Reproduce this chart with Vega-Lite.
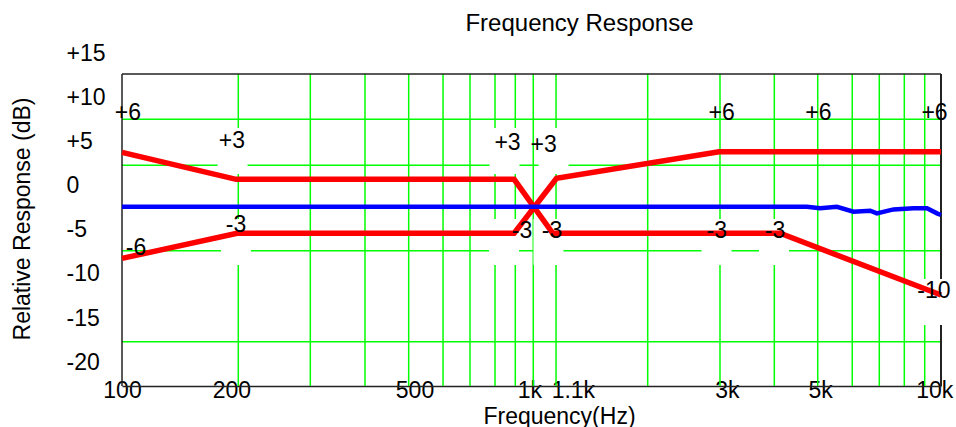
{
  "$schema": "https://vega.github.io/schema/vega-lite/v6.json",
  "width": 819,
  "height": 346,
  "autosize": {"type": "none"},
  "padding": {"left": 122, "top": 40, "right": 15, "bottom": 41},
  "background": "white",
  "config": {"view": {"stroke": null}, "font": "Liberation Sans, Arial, sans-serif"},
  "title": {"text": "Frequency Response", "fontSize": 24, "fontWeight": "normal", "color": "black", "anchor": "middle", "frame": "group", "dx": 48, "offset": 4},
  "datasets": {
    "vgrid": [{"f": 192.3}, {"f": 288.3}, {"f": 392.1}, {"f": 501.3}, {"f": 608.1}, {"f": 707.7}, {"f": 814.5}, {"f": 912.9}, {"f": 1010}, {"f": 1148}, {"f": 1922}, {"f": 2886}, {"f": 3917}, {"f": 5000}, {"f": 6071}, {"f": 7068}, {"f": 8136}, {"f": 9125}],
    "hgrid": [{"v": 7.51}, {"v": 2.3}, {"v": -7.38}, {"v": -17.68}],
    "frame": [{"f": 100, "f2": 10000, "v": 12.64, "v2": 12.64, "w": "thin"}, {"f": 100, "f2": 100, "v": -22.7, "v2": 12.64, "w": "thin"}, {"f": 10000, "f2": 10000, "v": -22.7, "v2": 12.64, "w": "thick"}],
    "boxes": [
      {"f": 186.2, "v": 3.92}, {"f": 859, "v": 3.92}, {"f": 1132, "v": 3.92},
      {"f": 189.8, "v": -6.39}, {"f": 857, "v": -6.39}, {"f": 1100, "v": -6.39}, {"f": 2830, "v": -6.39}, {"f": 3910, "v": -6.39},
      {"f": 9561, "v": -13.19}
    ],
    "red": [
      {"s": "A", "f": 100, "v": 3.77}, {"s": "A", "f": 190, "v": 0.71}, {"s": "A", "f": 907, "v": 0.71}, {"s": "A", "f": 1127, "v": -5.4}, {"s": "A", "f": 4047, "v": -5.4}, {"s": "A", "f": 10000, "v": -12.39},
      {"s": "B", "f": 100, "v": -8.24}, {"s": "B", "f": 191, "v": -5.4}, {"s": "B", "f": 907, "v": -5.4}, {"s": "B", "f": 1151, "v": 0.83}, {"s": "B", "f": 2870, "v": 3.84}, {"s": "B", "f": 10000, "v": 3.84}
    ],
    "blue": [
      {"f": 100, "v": -2.39}, {"f": 4704, "v": -2.39}, {"f": 5069, "v": -2.57}, {"f": 5569, "v": -2.39}, {"f": 6112, "v": -2.96}, {"f": 6716, "v": -2.84}, {"f": 6973, "v": -3.14}, {"f": 7657, "v": -2.69}, {"f": 8570, "v": -2.57}, {"f": 9243, "v": -2.57}, {"f": 9777, "v": -3.14}, {"f": 10000, "v": -3.33}
    ],
    "labels": [
      {"f": 103.4, "v": 8.28, "t": "+6"}, {"f": 185.6, "v": 5.05, "t": "+3"}, {"f": 873.8, "v": 4.83, "t": "+3"}, {"f": 1071, "v": 4.63, "t": "+3"},
      {"f": 2914, "v": 8.28, "t": "+6"}, {"f": 5017, "v": 8.28, "t": "+6"}, {"f": 9641, "v": 8.28, "t": "+6"},
      {"f": 108.2, "v": -7.07, "t": "-6"}, {"f": 189.8, "v": -4.46, "t": "-3"}, {"f": 948, "v": -5.14, "t": "-3"}, {"f": 1122, "v": -5.14, "t": "-3"},
      {"f": 2834, "v": -5.14, "t": "-3"}, {"f": 3933, "v": -5.14, "t": "-3"}, {"f": 9614, "v": -11.94, "t": "-10"}
    ]
  },
  "layer": [
    {
      "data": {"name": "vgrid"},
      "mark": {"type": "rule", "stroke": "#00ff00", "strokeWidth": 1.5},
      "encoding": {
        "x": {"field": "f", "type": "quantitative", "scale": {"type": "log", "domain": [100, 10000], "nice": false}},
        "y": {"datum": -22.7, "type": "quantitative", "scale": {"domain": [-22.7, 16.5], "nice": false, "zero": false}},
        "y2": {"datum": 12.64}
      }
    },
    {
      "data": {"name": "hgrid"},
      "mark": {"type": "rule", "stroke": "#00ff00", "strokeWidth": 1.5},
      "encoding": {
        "y": {"field": "v", "type": "quantitative", "scale": {"domain": [-22.7, 16.5], "nice": false, "zero": false}},
        "x": {"datum": 100, "type": "quantitative", "scale": {"type": "log", "domain": [100, 10000], "nice": false}},
        "x2": {"datum": 10000}
      }
    },
    {
      "data": {"name": "frame"},
      "mark": {"type": "rule", "stroke": "#222222"},
      "encoding": {
        "x": {"field": "f", "type": "quantitative", "scale": {"type": "log", "domain": [100, 10000], "nice": false}},
        "y": {"field": "v", "type": "quantitative", "scale": {"domain": [-22.7, 16.5], "nice": false, "zero": false}},
        "x2": {"field": "f2"},
        "y2": {"field": "v2"},
        "strokeWidth": {"field": "w", "type": "nominal", "scale": {"domain": ["thin", "thick"], "range": [1.5, 2]}, "legend": null}
      }
    },
    {
      "data": {"name": "boxes"},
      "mark": {"type": "point", "shape": "M-0.652,-1H0.652V1H-0.652Z", "size": 2116, "filled": true, "fill": "white", "stroke": null, "opacity": 1},
      "encoding": {
        "x": {"field": "f", "type": "quantitative", "scale": {"type": "log", "domain": [100, 10000], "nice": false}},
        "y": {"field": "v", "type": "quantitative", "scale": {"domain": [-22.7, 16.5], "nice": false, "zero": false}}
      }
    },
    {
      "data": {"name": "red"},
      "mark": {"type": "line", "stroke": "#ff0000", "strokeWidth": 5.5, "strokeJoin": "miter"},
      "encoding": {
        "x": {"field": "f", "type": "quantitative", "scale": {"type": "log", "domain": [100, 10000], "nice": false},
          "axis": {"values": [100, 185, 518, 988, 1262, 3000, 5069, 9630], "labelExpr": "datum.value < 150 ? '100' : datum.value < 300 ? '200' : datum.value < 700 ? '500' : datum.value < 1100 ? '1k' : datum.value < 2000 ? '1.1k' : datum.value < 4000 ? '3k' : datum.value < 7000 ? '5k' : '10k'",
            "title": "Frequency(Hz)", "titleX": 437, "titleY": 30, "titleBaseline": "middle", "titleAlign": "center", "titleFontSize": 23, "titleFontWeight": "normal", "titleColor": "black",
            "labelFontSize": 23, "labelColor": "black", "labelFlush": false, "labelOverlap": false, "labelBound": false, "labelPadding": -7, "labelBaseline": "top",
            "ticks": false, "tickSize": 0, "grid": false, "domainColor": "#222222", "domainWidth": 1.5}},
        "y": {"field": "v", "type": "quantitative", "scale": {"domain": [-22.7, 16.5], "nice": false, "zero": false},
          "axis": {"values": [-20, -15, -10, -5, 0, 5, 10, 15], "labelExpr": "datum.value > 0 ? '+' + datum.value : datum.value == 0 ? '\u00a0\u00a00' : '' + datum.value",
            "title": "Relative Response (dB)", "titleX": -100, "titleY": 178.5, "titleAngle": 270, "titleAlign": "center", "titleBaseline": "middle", "titleFontSize": 23, "titleFontWeight": "normal", "titleColor": "black",
            "labelFontSize": 23, "labelColor": "black", "labelAlign": "left", "labelBaseline": "middle", "labelPadding": 56, "labelOverlap": false, "labelBound": false, "labelFlush": false,
            "ticks": false, "tickSize": 0, "grid": false, "domain": false}},
        "detail": {"field": "s"}
      }
    },
    {
      "data": {"name": "blue"},
      "mark": {"type": "line", "stroke": "#0000ff", "strokeWidth": 4.5},
      "encoding": {
        "x": {"field": "f", "type": "quantitative", "scale": {"type": "log", "domain": [100, 10000], "nice": false}},
        "y": {"field": "v", "type": "quantitative", "scale": {"domain": [-22.7, 16.5], "nice": false, "zero": false}}
      }
    },
    {
      "data": {"name": "labels"},
      "mark": {"type": "text", "fontSize": 23, "color": "black", "align": "center", "baseline": "middle"},
      "encoding": {
        "x": {"field": "f", "type": "quantitative", "scale": {"type": "log", "domain": [100, 10000], "nice": false}},
        "y": {"field": "v", "type": "quantitative", "scale": {"domain": [-22.7, 16.5], "nice": false, "zero": false}},
        "text": {"field": "t"}
      }
    }
  ]
}
